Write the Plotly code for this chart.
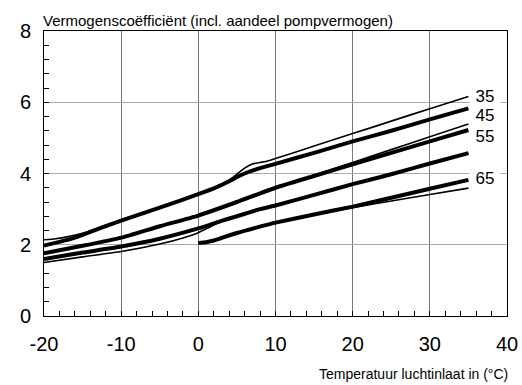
import plotly.graph_objects as go

# --- data ---
# thin curves
t1_x = [-20, -18.5, -17, -15, -10, -5, 0, 2, 4, 5, 6, 7, 8, 9, 10, 15, 20, 25, 30, 35]
t1_y = [2.14, 2.17, 2.22, 2.32, 2.70, 3.05, 3.44, 3.60, 3.82, 3.98, 4.15, 4.27, 4.31, 4.35, 4.42, 4.77, 5.12, 5.47, 5.82, 6.16]

t2_x = [-20, -15, -10, -5, 0, 5, 10, 15, 20, 25, 30, 35]
t2_y = [1.76, 1.97, 2.20, 2.52, 2.82, 3.20, 3.60, 3.95, 4.31, 4.67, 5.03, 5.39]

t3_x = [-20, -15, -10, -5, -2, 0, 1.5, 3, 5, 8, 10, 15, 20, 25, 30, 35]
t3_y = [1.50, 1.66, 1.81, 2.02, 2.19, 2.34, 2.50, 2.65, 2.79, 2.99, 3.09, 3.39, 3.69, 3.97, 4.27, 4.56]

t4_x = [0, 1, 2, 3, 5, 7.5, 10, 15, 20, 25, 30, 35]
t4_y = [2.05, 2.07, 2.12, 2.19, 2.33, 2.48, 2.62, 2.84, 3.04, 3.23, 3.41, 3.59]

# thick curves
k1_x = [-20, -18, -16, -15, -10, -5, 0, 2, 4, 5, 6, 7, 8, 10, 15, 20, 25, 30, 35]
k1_y = [1.98, 2.08, 2.20, 2.28, 2.68, 3.04, 3.42, 3.58, 3.78, 3.90, 4.00, 4.08, 4.15, 4.27, 4.58, 4.90, 5.20, 5.52, 5.83]

k2_x = [-20, -15, -10, -5, 0, 5, 10, 15, 20, 25, 30, 35]
k2_y = [1.76, 1.97, 2.20, 2.52, 2.82, 3.20, 3.60, 3.93, 4.26, 4.58, 4.90, 5.22]

k3_x = [-20, -15, -10, -5, 0, 1.5, 3, 5, 8, 10, 15, 20, 25, 30, 35]
k3_y = [1.60, 1.78, 1.95, 2.17, 2.46, 2.56, 2.67, 2.80, 3.00, 3.10, 3.40, 3.70, 3.98, 4.28, 4.57]

k4_x = [0, 1, 2, 3, 5, 7.5, 10, 15, 20, 25, 30, 35]
k4_y = [2.05, 2.07, 2.12, 2.19, 2.33, 2.48, 2.62, 2.85, 3.07, 3.32, 3.57, 3.82]

curve_labels = ["35", "45", "55", "65"]
curve_label_y = [6.16, 5.62, 5.04, 3.87]

x_ticks = [-20, -10, 0, 10, 20, 30, 40]
y_ticks = [0, 2, 4, 6, 8]

title_text = "Vermogenscoëfficiënt (incl. aandeel pompvermogen)"
x_title = "Temperatuur luchtinlaat in (°C)"

FONT = "Liberation Sans, Arial, sans-serif"

fig = go.Figure()
for xs, ys in [(k1_x, k1_y), (k2_x, k2_y), (k3_x, k3_y), (k4_x, k4_y)]:
    fig.add_trace(go.Scatter(x=xs, y=ys, mode="lines",
                             line=dict(color="black", width=4, shape="spline", smoothing=0.5),
                             showlegend=False, hoverinfo="skip"))
for xs, ys in [(t1_x, t1_y), (t2_x, t2_y), (t3_x, t3_y), (t4_x, t4_y)]:
    fig.add_trace(go.Scatter(x=xs, y=ys, mode="lines",
                             line=dict(color="black", width=1.6, shape="spline", smoothing=0.5),
                             showlegend=False, hoverinfo="skip"))

annotations = []
for lab, ly in zip(curve_labels, curve_label_y):
    annotations.append(dict(x=37.15, y=ly, xref="x", yref="y", text=lab, showarrow=False,
                            xanchor="center", yanchor="middle", width=28, bgcolor="white",
                            font=dict(family=FONT, size=17, color="black")))
annotations.append(dict(x=0, y=1.0, xref="paper", yref="paper", text=title_text, showarrow=False,
                        xanchor="left", yanchor="bottom", yshift=0, xshift=-3,
                        font=dict(family=FONT, size=15, color="black")))
annotations.append(dict(x=1.0, y=0, xref="paper", yref="paper", text=x_title, showarrow=False,
                        xanchor="right", yanchor="top", yshift=-48, xshift=3,
                        font=dict(family=FONT, size=14, color="black")))

fig.update_layout(
    width=522, height=385,
    margin=dict(l=44, r=15, t=31, b=69, autoexpand=False),
    paper_bgcolor="white", plot_bgcolor="white",
    font=dict(family=FONT, color="black"),
    annotations=annotations,
)
fig.update_xaxes(
    range=[-20, 40], tickvals=x_ticks, ticktext=[str(v) for v in x_ticks],
    showgrid=True, gridcolor="#777", gridwidth=1,
    showline=True, linecolor="black", linewidth=1, mirror=True,
    ticks="inside", ticklen=5, tickcolor="black",
    minor=dict(dtick=2, ticks="inside", ticklen=5, tickcolor="black", showgrid=False),
    tickfont=dict(family=FONT, size=20, color="black"),
    ticklabelstandoff=10, zeroline=False, automargin=False,
)
fig.update_yaxes(
    range=[0, 8], tickvals=y_ticks, ticktext=[str(v) for v in y_ticks],
    showgrid=True, gridcolor="#aaa", gridwidth=1,
    showline=True, linecolor="black", linewidth=1, mirror=True,
    ticks="inside", ticklen=5, tickcolor="black",
    minor=dict(dtick=0.4, ticks="inside", ticklen=5, tickcolor="black", showgrid=False),
    tickfont=dict(family=FONT, size=20, color="black"),
    ticklabelstandoff=8, zeroline=False, automargin=False,
)

fig.write_html("out.html", config={"displayModeBar": False},
               post_script="document.body.style.margin='0px';")
